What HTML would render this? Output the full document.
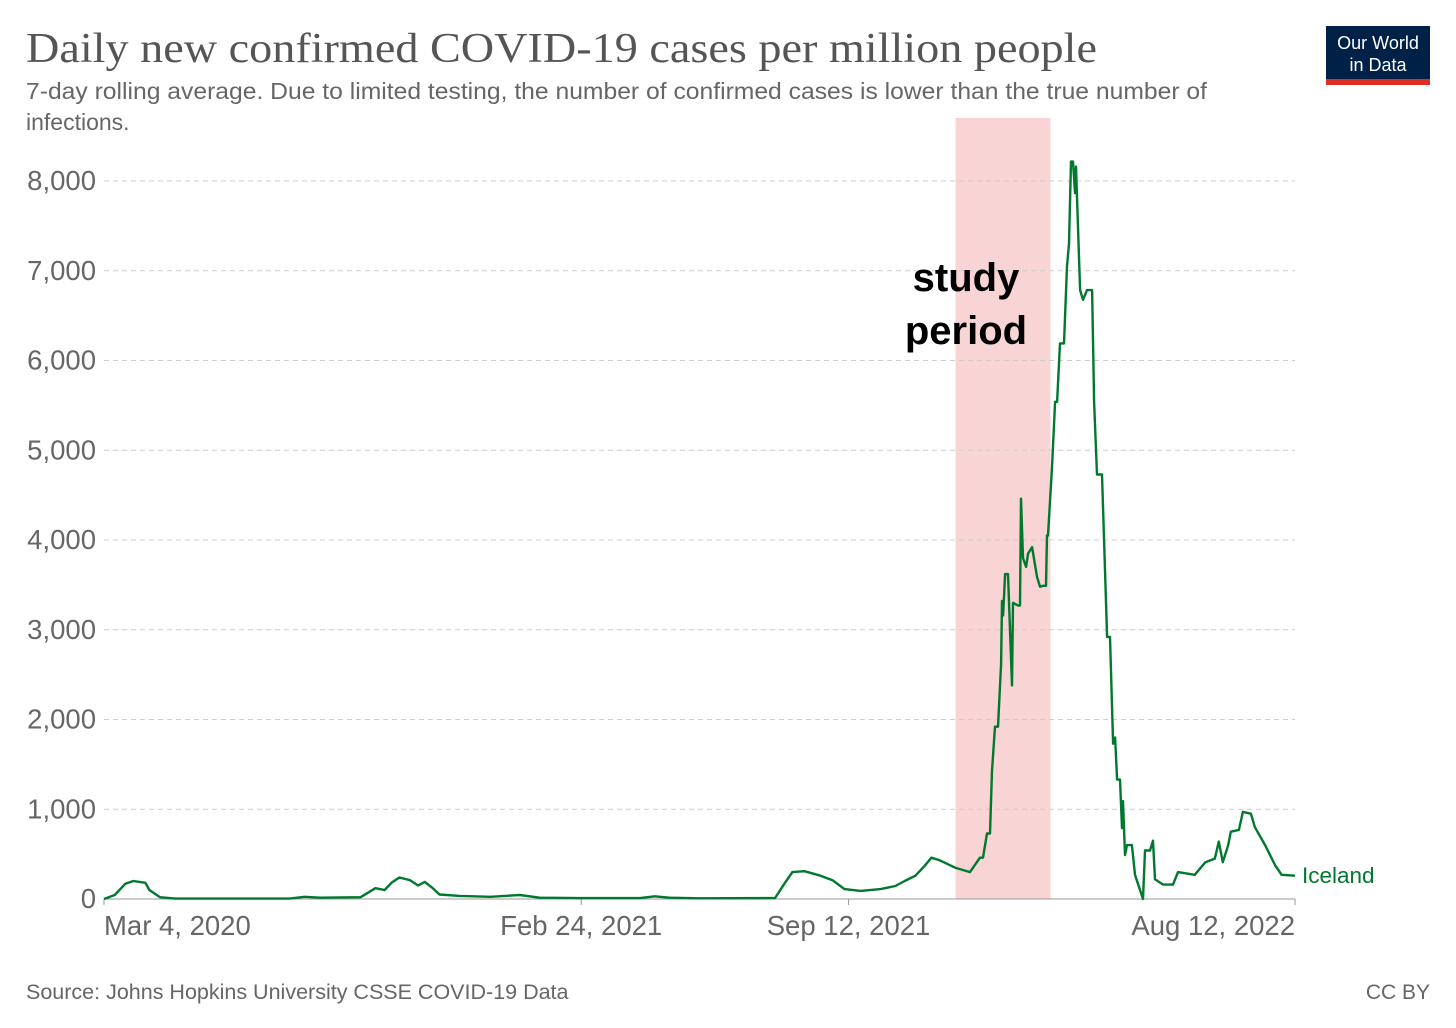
<!DOCTYPE html>
<html><head><meta charset="utf-8"><style>
body{margin:0;background:#fff;width:1456px;height:1028px;overflow:hidden;font-family:"Liberation Sans",sans-serif}
svg{position:absolute;left:0;top:0}
</style></head><body>
<svg id="c" width="1456" height="1028">
<text x="26" y="62" font-family="Liberation Serif,serif" font-size="42" fill="#555" textLength="1071" lengthAdjust="spacingAndGlyphs">Daily new confirmed COVID-19 cases per million people</text>
<text x="26" y="99" font-size="23" fill="#666" textLength="1181" lengthAdjust="spacingAndGlyphs">7-day rolling average. Due to limited testing, the number of confirmed cases is lower than the true number of</text>
<text x="26" y="130" font-size="23" fill="#666">infections.</text>
<g>
<rect x="1326" y="26" width="104" height="59" fill="#002147"/>
<rect x="1326" y="79" width="104" height="6" fill="#dc2e25"/>
<text x="1378" y="49" text-anchor="middle" font-size="18" fill="#fff">Our World</text>
<text x="1378" y="71" text-anchor="middle" font-size="18" fill="#fff">in Data</text>
</g>
<g id="plot"></g>
<text x="26" y="999" font-size="21.5" fill="#666">Source: Johns Hopkins University CSSE COVID-19 Data</text>
<text x="1430" y="999" text-anchor="end" font-size="21" fill="#666">CC BY</text>
</svg>
<script>
const yTicks=[0,1000,2000,3000,4000,5000,6000,7000,8000];
const yTickLabels=["0","1,000","2,000","3,000","4,000","5,000","6,000","7,000","8,000"];
const xTickDays=[0,357,557,891];
const xTickLabels=["Mar 4, 2020","Feb 24, 2021","Sep 12, 2021","Aug 12, 2022"];
const bandStart=637, bandEnd=708;
const days=[0,8,16,22,31,34,42,53,139,150,162,192,203,210,215,221,229,235,240,246,251,266,289,311,326,356,401,412,423,446,502,509,515,524,536,545,554,566,581,592,599,607,614,619,625.4,636.6,647.9,655.3,657.6,660.6,662.8,664.3,666.6,668.8,671.1,671.8,672.6,674.1,676.3,679.3,680.0,683.8,685.3,686.0,687.5,689.8,691.3,694.3,698.0,700.2,702.5,704.7,705.5,706.2,709.2,711.5,713.0,715.2,718.2,720.4,721.9,723.4,724.9,726.4,727.2,730.2,732.4,735.4,739.2,740.7,742.9,746.6,750.4,752.6,754.9,756.4,757.9,760.1,761.6,762.3,763.8,765.3,769.0,771.3,777.3,778.8,782.5,784.8,786.3,792.3,799.7,803.5,816,824,831,834,837,841,843,849,852,858,861,869,876,881,891];
const cases=[0,45,170,200,180,100,20,5,5,25,15,20,120,100,180,240,210,150,190,120,50,35,25,45,15,10,10,30,15,8,10,170,300,310,260,210,110,90,110,145,200,260,370,460,430,350,300,460,460,730,730,1430,1920,1920,2620,3320,3160,3620,3620,2380,3300,3270,3270,4460,3800,3700,3850,3920,3590,3480,3490,3490,4050,4050,4810,5540,5540,6190,6190,7050,7300,8216,8216,7865,8160,6784,6676,6784,6784,5540,4730,4730,2920,2920,1730,1800,1330,1330,790,1090,490,600,600,270,0,540,540,650,220,160,160,300,270,410,450,640,410,600,750,770,970,950,800,590,380,270,260];
const X0=104,X1=1295,Y0=899,Y1=181,D=891,VMAX=8000;
const xs=d=>X0+(X1-X0)*d/D, ys=v=>Y0-(Y0-Y1)*v/VMAX;
const ns="http://www.w3.org/2000/svg", g=document.getElementById('plot');
function mk(t,a){const e=document.createElementNS(ns,t);for(const k in a)e.setAttribute(k,a[k]);g.appendChild(e);return e;}
const band=mk('rect',{x:xs(bandStart),y:118,width:xs(bandEnd)-xs(bandStart),height:Y0-118,fill:'#f8d4d4'});


yTicks.forEach((v,i)=>{
  if(v>0){const l=mk('line',{x1:X0,x2:X1,y1:ys(v),y2:ys(v),stroke:'#ccc','stroke-dasharray':'5,4'});
  
  }
  const t=mk('text',{x:96,y:ys(v)+9,'text-anchor':'end','font-size':27.5,fill:'#666'});t.textContent=yTickLabels[i];
  
  
});
const ax=mk('line',{x1:X0,x2:X1,y1:Y0,y2:Y0,stroke:'#999'});


xTickDays.forEach((d,i)=>{
  const tk=mk('line',{x1:xs(d),x2:xs(d),y1:Y0,y2:Y0+6,stroke:'#999'});
  
  
  const anc=i==0?'start':(i==xTickDays.length-1?'end':'middle');
  const t=mk('text',{x:xs(d),y:935,'text-anchor':anc,'font-size':27.5,fill:'#666'});t.textContent=xTickLabels[i];
  
  
});
const s1=mk('text',{x:966,y:291,'text-anchor':'middle','font-size':40,'font-weight':'bold',fill:'#000'});s1.textContent='study';


const s2=mk('text',{x:966,y:344,'text-anchor':'middle','font-size':40,'font-weight':'bold',fill:'#000'});s2.textContent='period';


const p=mk('path',{d:days.map((d,i)=>(i?'L':'M')+xs(d).toFixed(1)+','+ys(cases[i]).toFixed(1)).join(''),fill:'none',stroke:'#00792f','stroke-width':2.4,'stroke-linejoin':'round'});


const lab=mk('text',{x:1302,y:883,'font-size':22.5,fill:'#00792f'});lab.textContent='Iceland';


</script>
</body></html>
